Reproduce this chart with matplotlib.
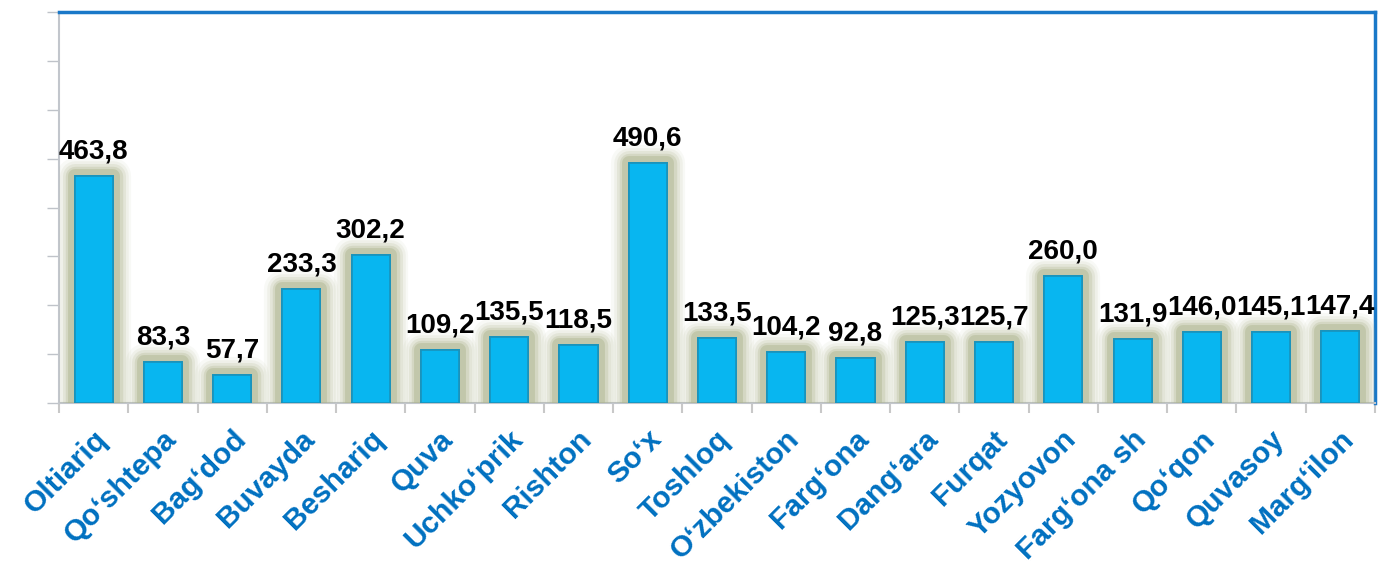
import matplotlib
matplotlib.use("Agg")
import matplotlib.pyplot as plt
import matplotlib.patheffects as pe
import matplotlib.transforms as mtrans
from matplotlib.ticker import MultipleLocator, FixedLocator, NullFormatter

categories = ["Oltiariq", "Qoʻshtepa", "Bagʻdod", "Buvayda", "Beshariq", "Quva",
              "Uchkoʻprik", "Rishton", "Soʻx", "Toshloq", "Oʻzbekiston", "Fargʻona",
              "Dangʻara", "Furqat", "Yozyovon", "Fargʻona sh", "Qoʻqon", "Quvasoy",
              "Margʻilon"]
values = [463.8, 83.3, 57.7, 233.3, 302.2, 109.2, 135.5, 118.5, 490.6, 133.5,
          104.2, 92.8, 125.3, 125.7, 260.0, 131.9, 146.0, 145.1, 147.4]
value_labels = ["463,8", "83,3", "57,7", "233,3", "302,2", "109,2", "135,5", "118,5",
                "490,6", "133,5", "104,2", "92,8", "125,3", "125,7", "260,0", "131,9",
                "146,0", "145,1", "147,4"]

plt.rcParams['font.family'] = ['Liberation Sans', 'DejaVu Sans']

fig = plt.figure(figsize=(13.79, 5.69), dpi=100)
ax = fig.add_axes([59/1379, 1 - 403/569, (1375-59)/1379, (403-12)/569])

x = list(range(len(values)))
glow = [pe.withStroke(linewidth=w, foreground='#AEB58E', alpha=a, joinstyle='round')
        for w, a in ((26, 0.08), (22, 0.12), (18, 0.18), (14, 0.28), (10, 0.45))] + [pe.Normal()]
bars = ax.bar(x, values, width=0.55, color='#08B6F0', edgecolor='#1A93BC',
              linewidth=1.2, zorder=3)
for b in bars:
    b.set_path_effects(glow)

for xi, v, lab in zip(x, values, value_labels):
    ax.annotate(lab, (xi, v), xytext=(0, 12.5), textcoords='offset points',
                ha='center', va='baseline', fontsize=20, fontweight='bold',
                color='black', zorder=5)

ax.set_xlim(-0.5, len(values) - 0.5)
ax.set_ylim(0, 800)
ax.yaxis.set_major_locator(MultipleLocator(100))
ax.yaxis.set_major_formatter(NullFormatter())
ax.tick_params(axis='y', length=9, color='#BFC3C9', width=1)

ax.set_xticks(x)
ax.set_xticklabels(categories, rotation=45, ha='right', va='center',
                   rotation_mode='anchor', fontsize=21.5, fontweight='bold',
                   color='#0070C0')
ax.tick_params(axis='x', which='major', length=0, pad=23)
shift = mtrans.ScaledTranslation(9/100, 0, fig.dpi_scale_trans)
for t in ax.get_xticklabels():
    t.set_transform(t.get_transform() + shift)
ax.xaxis.set_minor_locator(FixedLocator([i + 0.5 for i in range(-1, len(values))]))
ax.tick_params(axis='x', which='minor', length=7, color='#C8C8C8', width=1.5)

for s in ('left', 'bottom'):
    ax.spines[s].set_color('#C2C6CC')
    ax.spines[s].set_linewidth(1.5)
for s in ('top', 'right'):
    ax.spines[s].set_color('#1A78C8')
    ax.spines[s].set_linewidth(2.5)

fig.savefig('out.png', dpi=100)
